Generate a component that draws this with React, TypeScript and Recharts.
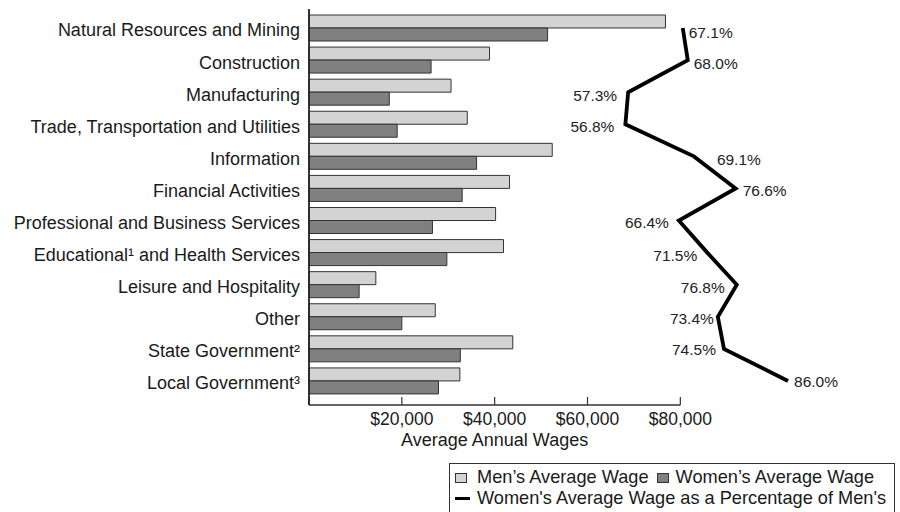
import React from 'react';
import { ComposedChart, Bar, Line, XAxis, YAxis, LabelList } from 'recharts';

const industries = [
  'Natural Resources and Mining',
  'Construction',
  'Manufacturing',
  'Trade, Transportation and Utilities',
  'Information',
  'Financial Activities',
  'Professional and Business Services',
  'Educational¹ and Health Services',
  'Leisure and Hospitality',
  'Other',
  'State Government²',
  'Local Government³',
];
const menWages = [76800, 38900, 30600, 34100, 52400, 43200, 40200, 41900, 14400, 27200, 43900, 32500];
const womenWages = [51400, 26300, 17300, 19000, 36100, 33000, 26600, 29700, 10800, 20000, 32600, 27900];
const womenPct = [67.1, 68.0, 57.3, 56.8, 69.1, 76.6, 66.4, 71.5, 76.8, 73.4, 74.5, 86.0];
const wageTicks = [0, 20000, 40000, 60000, 80000];

const data = industries.map((name, i) => ({
  name,
  men: menWages[i],
  women: womenWages[i],
  pct: womenPct[i],
}));

const FONT = '"Liberation Sans", Arial, Helvetica, sans-serif';
const MEN_FILL = '#d3d3d3';
const WOMEN_FILL = '#808083';
const EDGE = '#333333';
const WAGE_MAX = 120000;

// nudge each % label off the line (negative dx = label sits left of the point)
const PCT_LABEL_OFFSET: [number, number][] = [
  [6, 4], [6, 3], [-11, 3], [-11, 2], [23, 3], [7, 2],
  [-10, 2], [-10, 3], [-12, 3], [-4, 2], [-8, 1], [6, 1],
];

const renderPctLabel = (props: any) => {
  const { x, y, value, index } = props;
  const [dx, dy] = PCT_LABEL_OFFSET[index] || [6, 0];
  return (
    <text
      x={x + dx}
      y={y + dy}
      dy="0.355em"
      textAnchor={dx < 0 ? 'end' : 'start'}
      fontSize={15.5}
      fontFamily={FONT}
      fill="#222"
    >
      {`${Number(value).toFixed(1)}%`}
    </text>
  );
};

// axis title is centred under the labelled part of the axis ($0 - $80,000)
const renderWageTitle = (props: any) => {
  const vb = props.viewBox || {};
  const cx = vb.x + (vb.width * (wageTicks[wageTicks.length - 1] / WAGE_MAX)) / 2;
  return (
    <text x={cx} y={vb.y + 41} textAnchor="middle" fontSize={18} fontFamily={FONT} fill="#1a1a1a">
      Average Annual Wages
    </text>
  );
};

const swatch = (fill: string): React.CSSProperties => ({
  flexShrink: 0,
  width: 10,
  height: 8,
  background: fill,
  border: `1px solid ${EDGE}`,
});

const LegendBox = () => (
  <div
    style={{
      position: 'absolute',
      left: 449,
      top: 463,
      width: 446,
      height: 70,
      border: `1.5px solid ${EDGE}`,
      boxSizing: 'border-box',
      fontSize: 18.2,
      color: '#1a1a1a',
      lineHeight: '21px',
      paddingTop: 3,
      paddingLeft: 5,
      whiteSpace: 'nowrap',
    }}
  >
    <div style={{ display: 'flex', alignItems: 'center' }}>
      <span style={{ ...swatch(MEN_FILL), marginRight: 10 }} />
      <span>Men’s Average Wage</span>
      <span style={{ ...swatch(WOMEN_FILL), marginLeft: 8, marginRight: 7 }} />
      <span>Women’s Average Wage</span>
    </div>
    <div style={{ display: 'flex', alignItems: 'center' }}>
      <span style={{ flexShrink: 0, width: 15, height: 3.5, background: '#000', marginRight: 7 }} />
      <span>Women's Average Wage as a Percentage of Men's</span>
    </div>
  </div>
);

export default function App() {
  return (
    <div
      style={{
        position: 'absolute',
        left: 0,
        top: 0,
        width: 900,
        height: 512,
        background: '#fff',
        overflow: 'hidden',
        fontFamily: FONT,
      }}
    >
      <ComposedChart
        width={900}
        height={512}
        data={data}
        layout="vertical"
        margin={{ top: 9, right: 34, bottom: 47, left: 0 }}
        barGap={0}
        barCategoryGap={3}
      >
        <XAxis
          xAxisId="wage"
          type="number"
          orientation="bottom"
          domain={[0, WAGE_MAX]}
          ticks={wageTicks}
          interval={0}
          height={60}
          tickFormatter={(v: number) => (v === 0 ? '' : `$${v.toLocaleString('en-US')}`)}
          tick={{ fontSize: 17.5, fill: '#1a1a1a', fontFamily: FONT }}
          tickSize={-8}
          tickMargin={16}
          tickLine={{ stroke: EDGE, strokeWidth: 1.2 }}
          axisLine={{ stroke: EDGE, strokeWidth: 1.5, strokeDasharray: '371.3 1000' }}
          label={renderWageTitle}
        />
        <XAxis
          xAxisId="pct"
          type="number"
          orientation="top"
          domain={[0, 100]}
          height={0}
          tick={false}
          tickLine={false}
          axisLine={{ stroke: EDGE, strokeWidth: 1.5 }}
        />
        <YAxis
          type="category"
          dataKey="name"
          width={309}
          interval={0}
          padding={{ top: 3, bottom: 8 }}
          tickSize={0}
          tickMargin={9}
          tickLine={false}
          tick={{ fontSize: 18, fill: '#1a1a1a', fontFamily: FONT, dy: 2 }}
          axisLine={{ stroke: '#222', strokeWidth: 1.8 }}
        />
        <Bar
          xAxisId="wage"
          dataKey="men"
          name="Men’s Average Wage"
          fill={MEN_FILL}
          stroke={EDGE}
          strokeWidth={1}
          isAnimationActive={false}
        />
        <Bar
          xAxisId="wage"
          dataKey="women"
          name="Women’s Average Wage"
          fill={WOMEN_FILL}
          stroke={EDGE}
          strokeWidth={1}
          isAnimationActive={false}
        />
        <Line
          xAxisId="pct"
          dataKey="pct"
          name="Women's Average Wage as a Percentage of Men's"
          type="linear"
          stroke="#000"
          strokeWidth={3.8}
          strokeLinejoin="miter"
          dot={false}
          activeDot={false}
          isAnimationActive={false}
        >
          <LabelList dataKey="pct" content={renderPctLabel} />
        </Line>
      </ComposedChart>
      <LegendBox />
    </div>
  );
}
